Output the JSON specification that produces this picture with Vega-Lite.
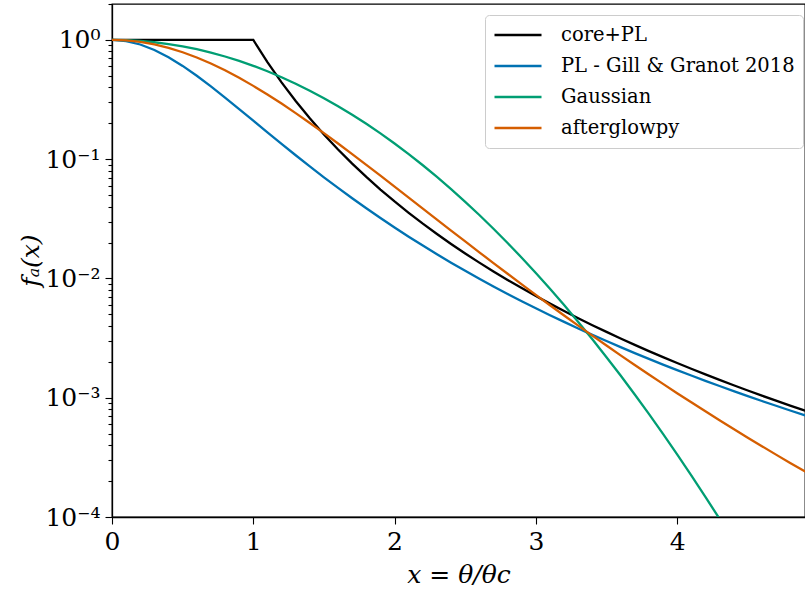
{
  "$schema": "https://vega.github.io/schema/vega-lite/v6.json",
  "width": 693,
  "height": 513,
  "autosize": "none",
  "padding": {"left": 112, "top": 4, "right": 0, "bottom": 77},
  "background": "white",
  "config": {
    "font": "DejaVu Serif",
    "view": {"stroke": "#000000", "strokeWidth": 1.3},
    "axis": {"grid": false, "domainColor": "#000000", "domainWidth": 1.3, "tickColor": "#000000", "tickWidth": 1.1, "labelColor": "#000000", "titleColor": "#000000", "labelFont": "DejaVu Serif", "titleFont": "DejaVu Serif", "titleFontWeight": "normal"}
  },
  "data": {"values": [
    {"s":"core+PL","x":0,"y":1},{"s":"core+PL","x":0.5,"y":1},{"s":"core+PL","x":1,"y":1},
    {"s":"core+PL","x":1.1,"y":0.6512},{"s":"core+PL","x":1.2,"y":0.4402},{"s":"core+PL","x":1.3,"y":0.3071},{"s":"core+PL","x":1.4,"y":0.2200},{"s":"core+PL","x":1.5,"y":0.1613},{"s":"core+PL","x":1.6,"y":0.1206},{"s":"core+PL","x":1.7,"y":0.09183},{"s":"core+PL","x":1.8,"y":0.07100},{"s":"core+PL","x":1.9,"y":0.05567},{"s":"core+PL","x":2.0,"y":0.04419},
    {"s":"core+PL","x":2.1,"y":0.03549},{"s":"core+PL","x":2.2,"y":0.02878},{"s":"core+PL","x":2.3,"y":0.02357},{"s":"core+PL","x":2.4,"y":0.01945},{"s":"core+PL","x":2.5,"y":0.01619},{"s":"core+PL","x":2.6,"y":0.01357},{"s":"core+PL","x":2.7,"y":0.01145},{"s":"core+PL","x":2.8,"y":0.009723},{"s":"core+PL","x":2.9,"y":0.008303},{"s":"core+PL","x":3.0,"y":0.007128},
    {"s":"core+PL","x":3.1,"y":0.006150},{"s":"core+PL","x":3.2,"y":0.005330},{"s":"core+PL","x":3.3,"y":0.004641},{"s":"core+PL","x":3.4,"y":0.004058},{"s":"core+PL","x":3.5,"y":0.003563},{"s":"core+PL","x":3.6,"y":0.003138},{"s":"core+PL","x":3.7,"y":0.002774},{"s":"core+PL","x":3.8,"y":0.002460},{"s":"core+PL","x":3.9,"y":0.002189},{"s":"core+PL","x":4.0,"y":0.001953},
    {"s":"core+PL","x":4.1,"y":0.001748},{"s":"core+PL","x":4.2,"y":0.001568},{"s":"core+PL","x":4.3,"y":0.001410},{"s":"core+PL","x":4.4,"y":0.001272},{"s":"core+PL","x":4.5,"y":0.001150},{"s":"core+PL","x":4.6,"y":0.001041},{"s":"core+PL","x":4.7,"y":0.000945},{"s":"core+PL","x":4.8,"y":0.000860},{"s":"core+PL","x":4.9,"y":0.000783},{"s":"core+PL","x":5.0,"y":0.000715},

    {"s":"PL - Gill & Granot 2018","x":0,"y":1},{"s":"PL - Gill & Granot 2018","x":0.1,"y":0.9779},{"s":"PL - Gill & Granot 2018","x":0.2,"y":0.9155},{"s":"PL - Gill & Granot 2018","x":0.3,"y":0.8237},{"s":"PL - Gill & Granot 2018","x":0.4,"y":0.7161},{"s":"PL - Gill & Granot 2018","x":0.5,"y":0.6053},{"s":"PL - Gill & Granot 2018","x":0.6,"y":0.5007},{"s":"PL - Gill & Granot 2018","x":0.7,"y":0.4077},{"s":"PL - Gill & Granot 2018","x":0.8,"y":0.3286},{"s":"PL - Gill & Granot 2018","x":0.9,"y":0.2632},{"s":"PL - Gill & Granot 2018","x":1.0,"y":0.2102},
    {"s":"PL - Gill & Granot 2018","x":1.1,"y":0.1679},{"s":"PL - Gill & Granot 2018","x":1.2,"y":0.1344},{"s":"PL - Gill & Granot 2018","x":1.3,"y":0.1079},{"s":"PL - Gill & Granot 2018","x":1.4,"y":0.08703},{"s":"PL - Gill & Granot 2018","x":1.5,"y":0.07050},{"s":"PL - Gill & Granot 2018","x":1.6,"y":0.05743},{"s":"PL - Gill & Granot 2018","x":1.7,"y":0.04705},{"s":"PL - Gill & Granot 2018","x":1.8,"y":0.03877},{"s":"PL - Gill & Granot 2018","x":1.9,"y":0.03211},{"s":"PL - Gill & Granot 2018","x":2.0,"y":0.02675},
    {"s":"PL - Gill & Granot 2018","x":2.1,"y":0.02240},{"s":"PL - Gill & Granot 2018","x":2.2,"y":0.01887},{"s":"PL - Gill & Granot 2018","x":2.3,"y":0.01596},{"s":"PL - Gill & Granot 2018","x":2.4,"y":0.01357},{"s":"PL - Gill & Granot 2018","x":2.5,"y":0.01159},{"s":"PL - Gill & Granot 2018","x":2.6,"y":0.009950},{"s":"PL - Gill & Granot 2018","x":2.7,"y":0.008576},{"s":"PL - Gill & Granot 2018","x":2.8,"y":0.007421},{"s":"PL - Gill & Granot 2018","x":2.9,"y":0.006447},{"s":"PL - Gill & Granot 2018","x":3.0,"y":0.005624},
    {"s":"PL - Gill & Granot 2018","x":3.1,"y":0.004921},{"s":"PL - Gill & Granot 2018","x":3.2,"y":0.004323},{"s":"PL - Gill & Granot 2018","x":3.3,"y":0.003810},{"s":"PL - Gill & Granot 2018","x":3.4,"y":0.003367},{"s":"PL - Gill & Granot 2018","x":3.5,"y":0.002986},{"s":"PL - Gill & Granot 2018","x":3.6,"y":0.002655},{"s":"PL - Gill & Granot 2018","x":3.7,"y":0.002367},{"s":"PL - Gill & Granot 2018","x":3.8,"y":0.002116},{"s":"PL - Gill & Granot 2018","x":3.9,"y":0.001897},{"s":"PL - Gill & Granot 2018","x":4.0,"y":0.001704},
    {"s":"PL - Gill & Granot 2018","x":4.1,"y":0.001535},{"s":"PL - Gill & Granot 2018","x":4.2,"y":0.001385},{"s":"PL - Gill & Granot 2018","x":4.3,"y":0.001253},{"s":"PL - Gill & Granot 2018","x":4.4,"y":0.001136},{"s":"PL - Gill & Granot 2018","x":4.5,"y":0.001031},{"s":"PL - Gill & Granot 2018","x":4.6,"y":0.000939},{"s":"PL - Gill & Granot 2018","x":4.7,"y":0.000856},{"s":"PL - Gill & Granot 2018","x":4.8,"y":0.000781},{"s":"PL - Gill & Granot 2018","x":4.9,"y":0.000715},{"s":"PL - Gill & Granot 2018","x":5.0,"y":0.000655},

    {"s":"Gaussian","x":0,"y":1},{"s":"Gaussian","x":0.1,"y":0.9950},{"s":"Gaussian","x":0.2,"y":0.9802},{"s":"Gaussian","x":0.3,"y":0.9560},{"s":"Gaussian","x":0.4,"y":0.9231},{"s":"Gaussian","x":0.5,"y":0.8825},{"s":"Gaussian","x":0.6,"y":0.8353},{"s":"Gaussian","x":0.7,"y":0.7827},{"s":"Gaussian","x":0.8,"y":0.7261},{"s":"Gaussian","x":0.9,"y":0.6670},{"s":"Gaussian","x":1.0,"y":0.6065},
    {"s":"Gaussian","x":1.1,"y":0.5461},{"s":"Gaussian","x":1.2,"y":0.4868},{"s":"Gaussian","x":1.3,"y":0.4296},{"s":"Gaussian","x":1.4,"y":0.3753},{"s":"Gaussian","x":1.5,"y":0.3247},{"s":"Gaussian","x":1.6,"y":0.2780},{"s":"Gaussian","x":1.7,"y":0.2357},{"s":"Gaussian","x":1.8,"y":0.1979},{"s":"Gaussian","x":1.9,"y":0.1645},{"s":"Gaussian","x":2.0,"y":0.1353},
    {"s":"Gaussian","x":2.1,"y":0.1103},{"s":"Gaussian","x":2.2,"y":0.08892},{"s":"Gaussian","x":2.3,"y":0.07100},{"s":"Gaussian","x":2.4,"y":0.05613},{"s":"Gaussian","x":2.5,"y":0.04394},{"s":"Gaussian","x":2.6,"y":0.03405},{"s":"Gaussian","x":2.7,"y":0.02612},{"s":"Gaussian","x":2.8,"y":0.01984},{"s":"Gaussian","x":2.9,"y":0.01492},{"s":"Gaussian","x":3.0,"y":0.01111},
    {"s":"Gaussian","x":3.1,"y":0.008188},{"s":"Gaussian","x":3.2,"y":0.005976},{"s":"Gaussian","x":3.3,"y":0.004318},{"s":"Gaussian","x":3.4,"y":0.003089},{"s":"Gaussian","x":3.5,"y":0.002187},{"s":"Gaussian","x":3.6,"y":0.001534},{"s":"Gaussian","x":3.7,"y":0.001065},{"s":"Gaussian","x":3.8,"y":0.000732},{"s":"Gaussian","x":3.9,"y":0.000498},{"s":"Gaussian","x":4.0,"y":0.000335},
    {"s":"Gaussian","x":4.1,"y":0.0002237},{"s":"Gaussian","x":4.2,"y":0.0001476},{"s":"Gaussian","x":4.3,"y":0.0000966},{"s":"Gaussian","x":4.4,"y":0.0000625},

    {"s":"afterglowpy","x":0,"y":1},{"s":"afterglowpy","x":0.1,"y":0.9903},{"s":"afterglowpy","x":0.2,"y":0.9618},{"s":"afterglowpy","x":0.3,"y":0.9164},{"s":"afterglowpy","x":0.4,"y":0.8573},{"s":"afterglowpy","x":0.5,"y":0.7879},{"s":"afterglowpy","x":0.6,"y":0.7121},{"s":"afterglowpy","x":0.7,"y":0.6337},{"s":"afterglowpy","x":0.8,"y":0.5559},{"s":"afterglowpy","x":0.9,"y":0.4812},{"s":"afterglowpy","x":1.0,"y":0.4117},
    {"s":"afterglowpy","x":1.1,"y":0.3486},{"s":"afterglowpy","x":1.2,"y":0.2925},{"s":"afterglowpy","x":1.3,"y":0.2434},{"s":"afterglowpy","x":1.4,"y":0.2012},{"s":"afterglowpy","x":1.5,"y":0.1654},{"s":"afterglowpy","x":1.6,"y":0.1353},{"s":"afterglowpy","x":1.7,"y":0.1103},{"s":"afterglowpy","x":1.8,"y":0.08964},{"s":"afterglowpy","x":1.9,"y":0.07271},{"s":"afterglowpy","x":2.0,"y":0.05887},
    {"s":"afterglowpy","x":2.1,"y":0.04763},{"s":"afterglowpy","x":2.2,"y":0.03853},{"s":"afterglowpy","x":2.3,"y":0.03117},{"s":"afterglowpy","x":2.4,"y":0.02522},{"s":"afterglowpy","x":2.5,"y":0.02043},{"s":"afterglowpy","x":2.6,"y":0.01657},{"s":"afterglowpy","x":2.7,"y":0.01346},{"s":"afterglowpy","x":2.8,"y":0.01095},{"s":"afterglowpy","x":2.9,"y":0.008927},{"s":"afterglowpy","x":3.0,"y":0.007291},
    {"s":"afterglowpy","x":3.1,"y":0.005967},{"s":"afterglowpy","x":3.2,"y":0.004894},{"s":"afterglowpy","x":3.3,"y":0.004023},{"s":"afterglowpy","x":3.4,"y":0.003315},{"s":"afterglowpy","x":3.5,"y":0.002738},{"s":"afterglowpy","x":3.6,"y":0.002267},{"s":"afterglowpy","x":3.7,"y":0.001882},{"s":"afterglowpy","x":3.8,"y":0.001566},{"s":"afterglowpy","x":3.9,"y":0.001306},{"s":"afterglowpy","x":4.0,"y":0.001092},
    {"s":"afterglowpy","x":4.1,"y":0.000915},{"s":"afterglowpy","x":4.2,"y":0.000769},{"s":"afterglowpy","x":4.3,"y":0.0006475},{"s":"afterglowpy","x":4.4,"y":0.0005466},{"s":"afterglowpy","x":4.5,"y":0.0004625},{"s":"afterglowpy","x":4.6,"y":0.0003923},{"s":"afterglowpy","x":4.7,"y":0.0003334},{"s":"afterglowpy","x":4.8,"y":0.000284},{"s":"afterglowpy","x":4.9,"y":0.0002425},{"s":"afterglowpy","x":5.0,"y":0.0002075}
  ]},
  "resolve": {"axis": {"y": "independent"}},
  "layer": [
    {
      "mark": {"type": "line", "clip": true, "opacity": 0},
      "encoding": {
        "x": {
          "field": "x", "type": "quantitative",
          "scale": {"domain": [0, 4.905], "nice": false, "zero": false},
          "axis": {"values": [0, 1, 2, 3, 4], "format": "d", "title": "x = θ/θc", "titleFontStyle": "italic", "titleFontSize": 25, "titlePadding": 8, "labelFontSize": 25, "tickSize": 7, "labelPadding": 5, "labelFlush": false}
        },
        "y": {
          "field": "y", "type": "quantitative",
          "scale": {"type": "log", "domain": [0.0001, 2.0], "nice": false},
          "axis": {
            "orient": "left",
            "values": [0.0002,0.0003,0.0004,0.0005,0.0006,0.0007,0.0008,0.0009,0.002,0.003,0.004,0.005,0.006,0.007,0.008,0.009,0.02,0.03,0.04,0.05,0.06,0.07,0.08,0.09,0.2,0.3,0.4,0.5,0.6,0.7,0.8,0.9,2],
            "labels": false, "domain": false, "tickSize": 4, "title": null
          }
        },
        "detail": {"field": "s", "type": "nominal"}
      }
    },
    {
      "mark": {"type": "line", "clip": true, "strokeWidth": 2.3, "interpolate": "linear"},
      "encoding": {
        "x": {
          "field": "x", "type": "quantitative",
          "scale": {"domain": [0, 4.905], "nice": false, "zero": false},
          "axis": {"values": [0, 1, 2, 3, 4], "format": "d", "title": "x = θ/θc", "titleFontStyle": "italic", "titleFontSize": 25, "titlePadding": 8, "labelFontSize": 25, "tickSize": 7, "labelPadding": 5, "labelFlush": false}
        },
        "y": {
          "field": "y", "type": "quantitative",
          "scale": {"type": "log", "domain": [0.0001, 2.0], "nice": false},
          "axis": {
            "orient": "left",
            "values": [0.0001, 0.001, 0.01, 0.1, 1],
            "labelExpr": "datum.value == 1 ? '10⁰' : datum.value == 0.1 ? '10⁻¹' : datum.value == 0.01 ? '10⁻²' : datum.value == 0.001 ? '10⁻³' : '10⁻⁴'",
            "tickSize": 7,
            "labelFontSize": 25, "labelPadding": 5, "labelFlush": false, "labelOverlap": false,
            "title": "fₐ(x)", "titleFontStyle": "italic", "titleFontSize": 25, "titleX": -82, "titleY": 256, "titleAnchor": "middle", "titleBaseline": "middle", "titleAngle": -90
          }
        },
        "color": {
          "field": "s", "type": "nominal",
          "scale": {"domain": ["core+PL", "PL - Gill & Granot 2018", "Gaussian", "afterglowpy"], "range": ["#000000", "#0072B2", "#009E73", "#D55E00"]},
          "legend": {
            "title": null, "orient": "none", "legendX": 373, "legendY": 11,
            "symbolType": "stroke", "symbolSize": 2209, "symbolStrokeWidth": 2.5,
            "clipHeight": 24, "rowPadding": 7, "labelOffset": 18,
            "labelFontSize": 19.5, "labelFont": "DejaVu Serif", "labelColor": "#000000", "labelLimit": 400,
            "padding": 8, "strokeColor": "#cccccc", "fillColor": "white", "cornerRadius": 4
          }
        }
      }
    }
  ]
}
